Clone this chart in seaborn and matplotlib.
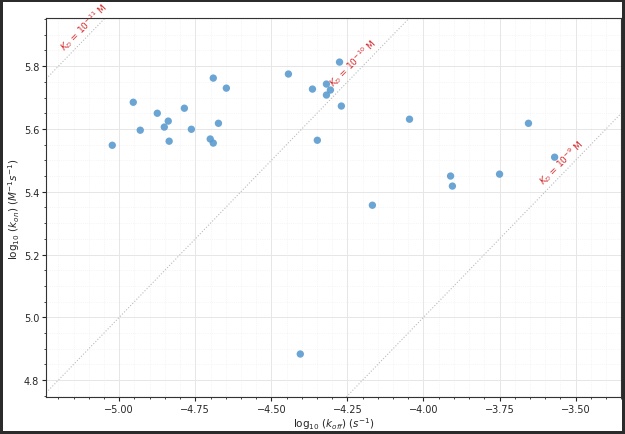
import numpy as np
import matplotlib
matplotlib.use("Agg")
import matplotlib.pyplot as plt
import seaborn as sns
from matplotlib.ticker import AutoMinorLocator

log_koff = [-5.023, -4.954, -4.931, -4.875, -4.852, -4.839, -4.836, -4.786, -4.763, -4.701,
            -4.691, -4.691, -4.674, -4.648, -4.444, -4.365, -4.349, -4.319, -4.319, -4.306,
            -4.276, -4.270, -4.168, -4.046, -3.911, -3.905, -4.405, -3.750, -3.655, -3.569]
log_kon = [5.548, 5.685, 5.596, 5.650, 5.606, 5.625, 5.561, 5.666, 5.599, 5.568,
           5.555, 5.762, 5.618, 5.730, 5.775, 5.727, 5.564, 5.743, 5.708, 5.724,
           5.813, 5.673, 5.357, 5.631, 5.450, 5.418, 4.883, 5.456, 5.618, 5.510]
kd_exponents = [-11, -10, -9]
kd_label_x = [-5.10, -4.215, -3.53]

sns.set_style("white")
fig, ax = plt.subplots(figsize=(6.25, 4.35), dpi=100)
fig.subplots_adjust(left=0.074, right=0.994, bottom=0.085, top=0.956)

xlim = (-5.24, -3.35)
ylim = (4.746, 5.953)

xs = np.array(xlim)
for e, lx in zip(kd_exponents, kd_label_x):
    ax.plot(xs, xs - e, ls=":", color="#bbbbbb", lw=0.8, zorder=1)
    ax.text(lx, lx - e + 0.01, rf"$K_D$ = $10^{{{e}}}$ M", color="#d62728",
            fontsize=6.5, rotation=45, rotation_mode="anchor", ha="center", va="bottom")

sns.scatterplot(x=log_koff, y=log_kon, ax=ax, color="#5b9bd0", s=28, edgecolor="none",
                alpha=0.9, zorder=3)

ax.set_xlim(xlim)
ax.set_ylim(ylim)
ax.set_xticks([-5.0, -4.75, -4.5, -4.25, -4.0, -3.75, -3.5])
ax.set_yticks([4.8, 5.0, 5.2, 5.4, 5.6, 5.8])
ax.xaxis.set_minor_locator(AutoMinorLocator(5))
ax.yaxis.set_minor_locator(AutoMinorLocator(4))
ax.grid(which="major", color="#e6e6e6", lw=0.7)
ax.grid(which="minor", color="#eeeeee", lw=0.5, ls=":")
ax.tick_params(which="both", direction="out", labelsize=7, length=3, pad=2,
               bottom=True, left=True)
ax.tick_params(which="minor", length=1.5)
ax.set_xlabel(r"$\log_{10}\,(k_{off})\;(s^{-1})$", fontsize=7.5, labelpad=1)
ax.set_ylabel(r"$\log_{10}\,(k_{on})\;(M^{-1}s^{-1})$", fontsize=7.5, labelpad=1)
for s in ax.spines.values():
    s.set_color("#333333")
    s.set_linewidth(0.8)

fig.patch.set_edgecolor("#2b2b2b")
fig.patch.set_linewidth(3)
fig.savefig("out.png", dpi=100, edgecolor=fig.get_edgecolor())
